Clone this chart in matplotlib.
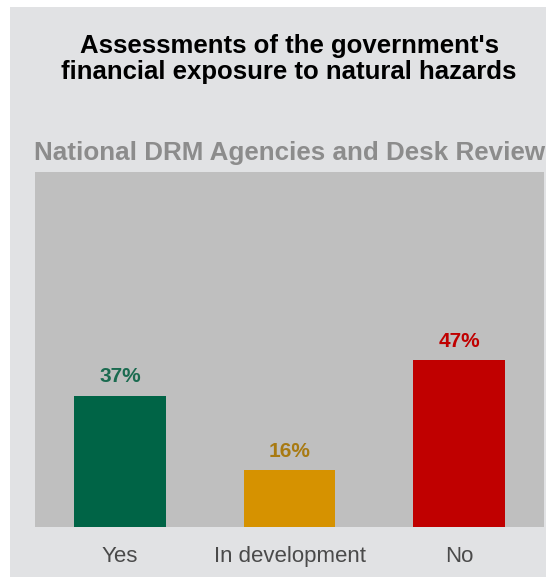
import matplotlib
matplotlib.use("Agg")
import matplotlib.pyplot as plt
from matplotlib.patches import Rectangle

categories = ["Yes", "In development", "No"]
values = [37, 16, 47]
labels = ["37%", "16%", "47%"]
bar_colors = ["#006446", "#D69200", "#C00000"]
label_colors = ["#1B6B50", "#A87A12", "#C00000"]

plt.rcParams['font.family'] = ['Liberation Sans', 'DejaVu Sans']

W, H = 556, 577
fig = plt.figure(figsize=(W/100, H/100), dpi=100, facecolor="white")
fig.patches.append(Rectangle((10/W, 0), (546-10)/W, (H-7)/H, transform=fig.transFigure,
                             facecolor="#E1E2E4", edgecolor="none", zorder=-10))

ax = fig.add_axes([35/W, 50/H, (544-35)/W, (527-172)/H])
ax.set_facecolor("#BFBFBF")
x = range(len(categories))
ax.bar(x, values, width=0.54, color=bar_colors, zorder=2)
for xi, v, lab, c in zip(x, values, labels, label_colors):
    ax.text(xi, v + 2.6, lab, ha="center", va="bottom", fontsize=15, fontweight="bold", color=c)
ax.set_xlim(-0.5, 2.5)
ax.set_ylim(0, 100)
ax.set_yticks([])
ax.set_xticks(list(x))
ax.set_xticklabels(categories, fontsize=16, color="#4A4A4A")
ax.tick_params(axis="x", length=0, pad=14)
for s in ax.spines.values():
    s.set_visible(False)

fig.text(289/W, 1 - 59/H, "Assessments of the government's\nfinancial exposure to natural hazards",
         ha="center", va="center", fontsize=18.5, fontweight="bold", color="black", linespacing=1.15)
fig.text(290/W, 1 - 153/H, "National DRM Agencies and Desk Review",
         ha="center", va="center", fontsize=18.7, fontweight="bold", color="#8C8C8C")

fig.savefig("out.png", dpi=100, facecolor="white")
